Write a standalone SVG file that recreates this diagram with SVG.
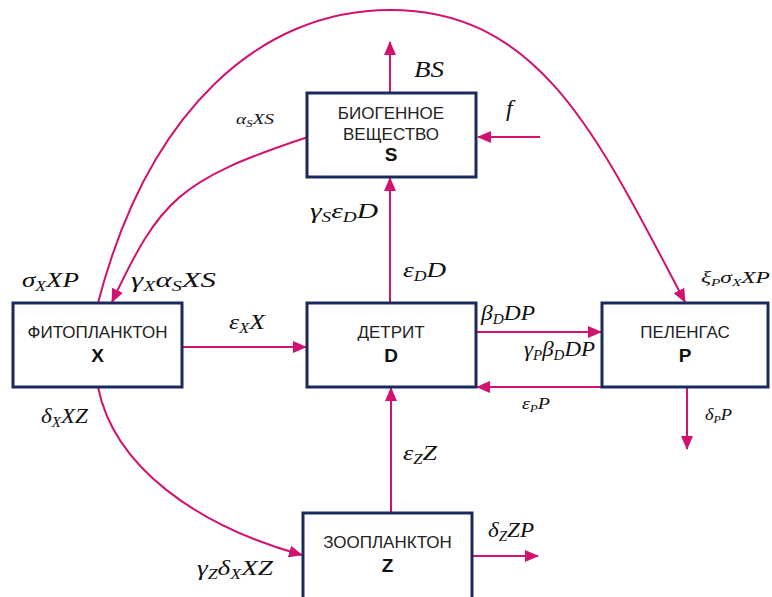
<svg xmlns="http://www.w3.org/2000/svg" width="772" height="597" viewBox="0 0 772 597">
<style>
.box{fill:#fff;stroke:#1b2a5e;stroke-width:3}
.c{fill:none;stroke:#d1126f;stroke-width:2}
.t{font-family:"Liberation Sans",Arial,sans-serif;font-size:17px;fill:#222;text-anchor:middle}
.b{font-family:"Liberation Sans",Arial,sans-serif;font-size:19px;font-weight:bold;fill:#111;text-anchor:middle}
.m{font-family:"Liberation Serif","Times New Roman",serif;font-style:italic;font-size:22px;fill:#111}
.s{font-size:0.65em}
</style>
<defs>
<marker id="ah" markerUnits="userSpaceOnUse" markerWidth="14" markerHeight="12" refX="13" refY="6" orient="auto">
<path d="M0,0 L14,6 L0,12 z" fill="#d1126f"/>
</marker>
</defs>
<rect width="772" height="597" fill="#fff"/>
<g id="connectors">
<path class="c" d="M98,303 C148,111 260,10 390,10 C540,10 597,135 685,302" marker-end="url(#ah)"/>
<path class="c" d="M308,137 C178,180 160,200 112,302" marker-end="url(#ah)"/>
<path class="c" d="M98,387 C114,467 197,526 302,555" marker-end="url(#ah)"/>
<line class="c" x1="390" y1="93" x2="390" y2="42" marker-end="url(#ah)"/>
<line class="c" x1="540" y1="137" x2="478" y2="137" marker-end="url(#ah)"/>
<line class="c" x1="390" y1="303" x2="390" y2="178" marker-end="url(#ah)"/>
<line class="c" x1="182" y1="347" x2="306" y2="347" marker-end="url(#ah)"/>
<line class="c" x1="476" y1="332" x2="601" y2="332" marker-end="url(#ah)"/>
<line class="c" x1="602" y1="387" x2="477" y2="387" marker-end="url(#ah)"/>
<line class="c" x1="687" y1="387" x2="687" y2="449" marker-end="url(#ah)"/>
<line class="c" x1="391" y1="513" x2="391" y2="388" marker-end="url(#ah)"/>
<line class="c" x1="472" y1="556" x2="538" y2="556" marker-end="url(#ah)"/>
</g>
<g id="node-S">
<rect class="box" x="307" y="93" width="169" height="84"/>
<text class="t" x="391" y="119">БИОГЕННОЕ</text>
<text class="t" x="391" y="140">ВЕЩЕСТВО</text>
<text class="b" x="391" y="161">S</text>
</g>
<g id="node-X">
<rect class="box" x="13" y="303" width="169" height="84"/>
<text class="t" x="97.5" y="338">ФИТОПЛАНКТОН</text>
<text class="b" x="97.5" y="362">X</text>
</g>
<g id="node-D">
<rect class="box" x="307" y="303" width="169" height="84"/>
<text class="t" x="391" y="338">ДЕТРИТ</text>
<text class="b" x="391" y="362">D</text>
</g>
<g id="node-P">
<rect class="box" x="602" y="303" width="166" height="84"/>
<text class="t" x="685" y="338">ПЕЛЕНГАС</text>
<text class="b" x="685" y="362">P</text>
</g>
<g id="node-Z">
<rect class="box" x="303" y="513" width="169" height="90"/>
<text class="t" x="387.5" y="548">ЗООПЛАНКТОН</text>
<text class="b" x="387.5" y="572">Z</text>
</g>
<g id="labels">
<text class="m" x="414" y="77" style="font-size:24px" textLength="30" lengthAdjust="spacingAndGlyphs">BS</text>
<text class="m" x="506" y="116" style="font-size:24px">f</text>
<text class="m" x="236" y="124" style="font-size:15px" textLength="38" lengthAdjust="spacingAndGlyphs">α<tspan class="s" dy="3">S</tspan><tspan dy="-3">XS</tspan></text>
<text class="m" x="310" y="218" textLength="68" lengthAdjust="spacingAndGlyphs">γ<tspan class="s" dy="4">S</tspan><tspan dy="-4">ε</tspan><tspan class="s" dy="4">D</tspan><tspan dy="-4">D</tspan></text>
<text class="m" x="403" y="277" textLength="43" lengthAdjust="spacingAndGlyphs">ε<tspan class="s" dy="4">D</tspan><tspan dy="-4">D</tspan></text>
<text class="m" x="22" y="287" textLength="57" lengthAdjust="spacingAndGlyphs">σ<tspan class="s" dy="4">X</tspan><tspan dy="-4">XP</tspan></text>
<text class="m" x="131" y="287" textLength="85" lengthAdjust="spacingAndGlyphs">γ<tspan class="s" dy="4">X</tspan><tspan dy="-4">α</tspan><tspan class="s" dy="4">S</tspan><tspan dy="-4">XS</tspan></text>
<text class="m" x="229" y="329" textLength="36" lengthAdjust="spacingAndGlyphs">ε<tspan class="s" dy="4">X</tspan><tspan dy="-4">X</tspan></text>
<text class="m" x="41" y="423" style="font-size:21px" textLength="47" lengthAdjust="spacingAndGlyphs">δ<tspan class="s" dy="4">X</tspan><tspan dy="-4">XZ</tspan></text>
<text class="m" x="481" y="320" style="font-size:21px" textLength="54" lengthAdjust="spacingAndGlyphs">β<tspan class="s" dy="4">D</tspan><tspan dy="-4">DP</tspan></text>
<text class="m" x="524" y="356" style="font-size:21px" textLength="71" lengthAdjust="spacingAndGlyphs">γ<tspan class="s" dy="4">P</tspan><tspan dy="-4">β</tspan><tspan class="s" dy="4">D</tspan><tspan dy="-4">DP</tspan></text>
<text class="m" x="522" y="409" style="font-size:16px" textLength="28" lengthAdjust="spacingAndGlyphs">ε<tspan class="s" dy="3">P</tspan><tspan dy="-3">P</tspan></text>
<text class="m" x="705" y="420" style="font-size:16px" textLength="27" lengthAdjust="spacingAndGlyphs">δ<tspan class="s" dy="3">P</tspan><tspan dy="-3">P</tspan></text>
<text class="m" x="701" y="283" style="font-size:17px" textLength="69" lengthAdjust="spacingAndGlyphs">ξ<tspan class="s" dy="3">P</tspan><tspan dy="-3">σ</tspan><tspan class="s" dy="3">X</tspan><tspan dy="-3">XP</tspan></text>
<text class="m" x="403" y="460" style="font-size:21px" textLength="34" lengthAdjust="spacingAndGlyphs">ε<tspan class="s" dy="4">Z</tspan><tspan dy="-4">Z</tspan></text>
<text class="m" x="488" y="537" style="font-size:21px" textLength="46" lengthAdjust="spacingAndGlyphs">δ<tspan class="s" dy="4">Z</tspan><tspan dy="-4">ZP</tspan></text>
<text class="m" x="197" y="575" style="font-size:21px" textLength="76" lengthAdjust="spacingAndGlyphs">γ<tspan class="s" dy="4">Z</tspan><tspan dy="-4">δ</tspan><tspan class="s" dy="4">X</tspan><tspan dy="-4">XZ</tspan></text>
</g>
</svg>
